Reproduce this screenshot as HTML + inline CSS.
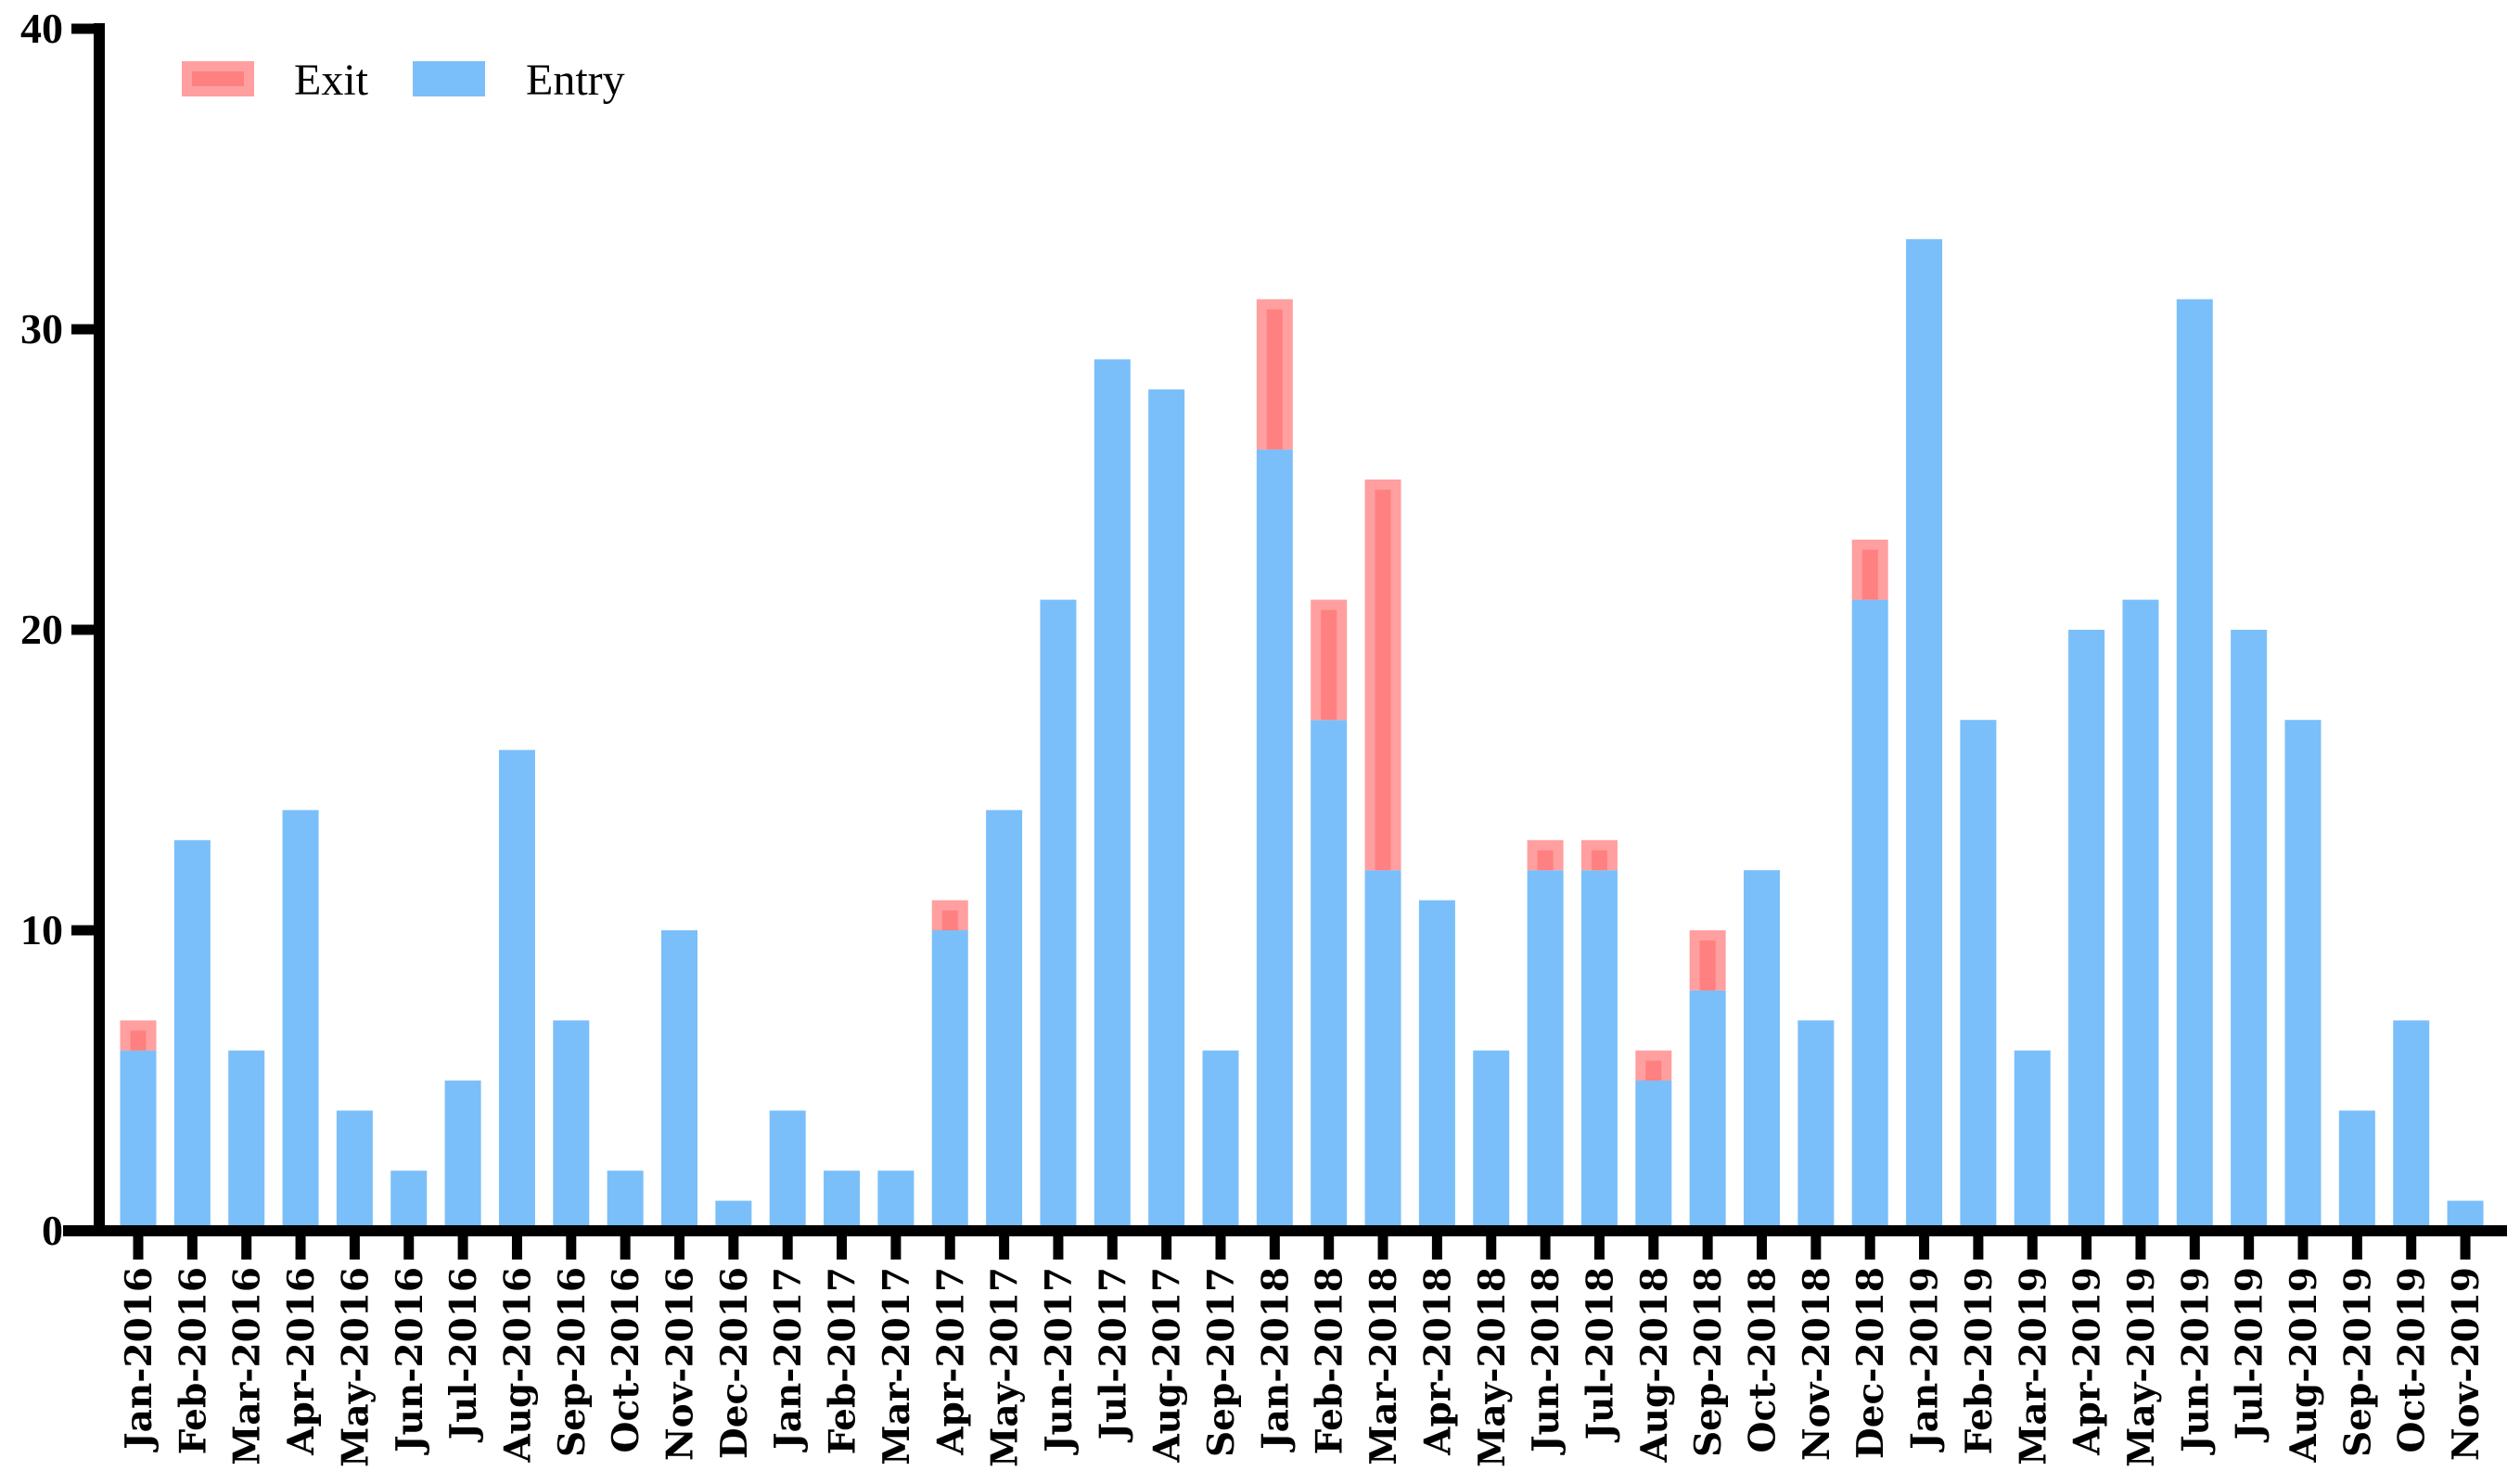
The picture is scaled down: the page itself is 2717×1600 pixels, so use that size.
<!DOCTYPE html>
<html><head><meta charset="utf-8"><style>
body{margin:0;background:#fff}
svg{display:block}
</style></head><body>
<svg id="chart" width="2717" height="1600" viewBox="0 0 2717 1600" xmlns="http://www.w3.org/2000/svg">
<g id="bars"></g>
<g id="axes"></g>
<g>
<g>
<rect x="196" y="66" width="78" height="38" fill="#ff9f9f"/>
<rect x="207" y="77" width="56" height="16" fill="#ff8080"/>
<text x="317" y="102" font-family="Liberation Serif, serif" font-size="48" fill="#000">Exit</text>
</g>
<g>
<rect x="445" y="66" width="78" height="38" fill="#7abff9"/>
<text x="567" y="102" font-family="Liberation Serif, serif" font-size="48" fill="#000">Entry</text>
</g>
</g>
</svg>
<script>
const categories = ["Jan-2016","Feb-2016","Mar-2016","Apr-2016","May-2016","Jun-2016","Jul-2016","Aug-2016","Sep-2016","Oct-2016","Nov-2016","Dec-2016","Jan-2017","Feb-2017","Mar-2017","Apr-2017","May-2017","Jun-2017","Jul-2017","Aug-2017","Sep-2017","Jan-2018","Feb-2018","Mar-2018","Apr-2018","May-2018","Jun-2018","Jul-2018","Aug-2018","Sep-2018","Oct-2018","Nov-2018","Dec-2018","Jan-2019","Feb-2019","Mar-2019","Apr-2019","May-2019","Jun-2019","Jul-2019","Aug-2019","Sep-2019","Oct-2019","Nov-2019"];
const entryValues = [6,13,6,14,4,2,5,16,7,2,10,1,4,2,2,10,14,21,29,28,6,26,17,12,11,6,12,12,5,8,12,7,21,33,17,6,20,21,31,20,17,4,7,1];
const exitValues = [1,0,0,0,0,0,0,0,0,0,0,0,0,0,0,1,0,0,0,0,0,5,4,13,0,0,1,1,1,2,0,0,2,0,0,0,0,0,0,0,0,0,0,0];
const yTicks = [0,10,20,30,40];

const NS="http://www.w3.org/2000/svg";
const x0=149, step=58.35, bw=39;
const yBase=1327, yTop=31, yMax=40;
function xPos(i){return x0+i*step;}
function yPos(v){return yBase-(yBase-yTop)*v/yMax;}
function mk(tag,attrs,parent){const e=document.createElementNS(NS,tag);for(const k in attrs)e.setAttribute(k,attrs[k]);parent.appendChild(e);return e;}
const bars=document.getElementById('bars');
const axes=document.getElementById('axes');
categories.forEach((c,i)=>{
  const cx=xPos(i);
  const e=entryValues[i];
  const r=mk('rect',{x:cx-bw/2,y:yPos(e),width:bw,height:yBase-yPos(e),fill:'#7abff9'},bars);
  
  
  const x=exitValues[i];
  if(x>0){
    const top=yPos(e+x), bot=yPos(e);
    const g=mk('g',{},bars);
    
    
    mk('rect',{x:cx-bw/2,y:top,width:bw,height:bot-top,fill:'#ff9f9f'},g);
    const ih=Math.max(0,bot-top-11);
    mk('rect',{x:cx-bw/2+11,y:top+11,width:bw-22,height:ih,fill:'#ff8080'},g);
  }
  const t=mk('line',{x1:cx,y1:yBase,x2:cx,y2:1358,stroke:'#000','stroke-width':11},axes);
  
  
  const lbl=mk('text',{x:0,y:0,transform:`translate(${cx+14},1366) rotate(-90)`,'text-anchor':'end','font-family':'DejaVu Serif, serif','font-weight':'bold','font-size':'39',fill:'#000'},axes);
  lbl.textContent=c;
  
  
});
const ya=mk('line',{x1:107,y1:25,x2:107,y2:1333,stroke:'#000','stroke-width':12},axes);


const xa=mk('line',{x1:68,y1:1327,x2:2703,y2:1327,stroke:'#000','stroke-width':12},axes);


yTicks.forEach(v=>{
  const y=yPos(v);
  const t=mk('line',{x1:77,y1:y,x2:107,y2:y,stroke:'#000','stroke-width':11},axes);
  
  
  const l=mk('text',{x:68,y:y+15,'text-anchor':'end','font-family':'Liberation Serif, serif','font-weight':'bold','font-size':'46',fill:'#000'},axes);
  l.textContent=String(v);
  
  
});
</script>
</body></html>
